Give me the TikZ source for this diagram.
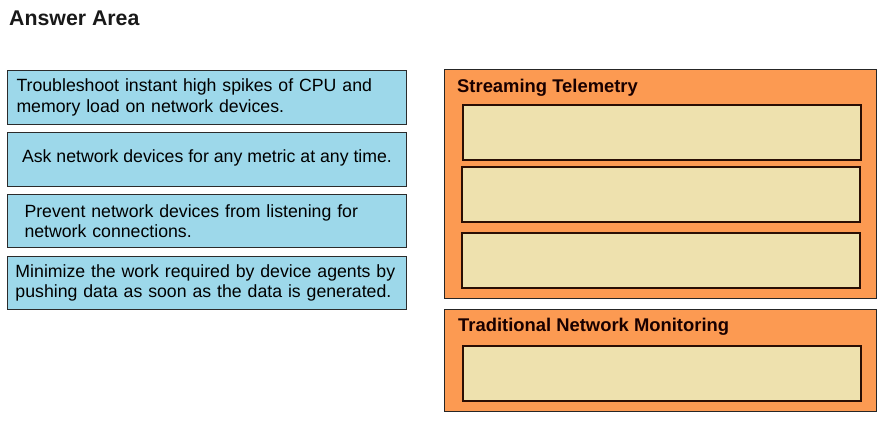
\documentclass[tikz,border=0pt]{standalone}
\usepackage{fontspec}
\setmainfont{Liberation Sans}
\definecolor{cardblue}{HTML}{9DD8EA}
\definecolor{zoneorange}{HTML}{FC9A52}
\definecolor{slotbeige}{HTML}{EEE1AE}
\definecolor{slotedge}{HTML}{2A0E04}
\definecolor{cardedge}{HTML}{2B2B2B}
\begin{document}
\begin{tikzpicture}[x=1pt,y=-1pt,
  card/.style={draw=cardedge,line width=1pt,fill=cardblue,anchor=north west,
    minimum height=54pt,align=left,font=\fontsize{17.7}{20.5}\selectfont,inner ysep=0pt},
  zone/.style={draw=black!85,line width=1pt,fill=zoneorange,anchor=north west,inner sep=0pt},
  slot/.style={draw=slotedge,line width=1.8pt,fill=slotbeige,anchor=north west,
    minimum width=398pt,minimum height=55pt,inner sep=0pt},
  zonetitle/.style={anchor=west,font=\fontsize{18.4}{20}\bfseries\selectfont,text=black!90!red,inner sep=0pt}
  ]
\useasboundingbox[fill=white] (0,0) rectangle (891,423);
\node[anchor=west,font=\fontsize{21.3}{24}\bfseries\selectfont,inner sep=0pt,text=black!90] (title) at (9,18) {Answer Area};

\node[card,inner xsep=9pt,text width=381pt] (c1) at (7,70) {Troubleshoot instant high spikes of CPU and\\memory load on network devices.};
\node[card,inner xsep=0pt,minimum width=399pt,text depth=7pt] (c2) at (7,132) {Ask network devices for any metric at any time.};
\node[card,inner xsep=17pt,text width=365pt,minimum height=53pt] (c3) at (7,194) {Prevent network devices from listening for\\network connections.};
\node[card,inner xsep=8pt,text width=383pt,minimum height=53pt] (c4) at (7,256) {Minimize the work required by device agents by\\pushing data as soon as the data is generated.};

\node[zone,minimum width=432pt,minimum height=229pt] (st) at (444,69) {};
\node[zonetitle] (sttitle) at (457,87.5) {Streaming Telemetry};
\node[slot,minimum width=398pt] (s1) at (462,104) {};
\node[slot] (s2) at (461,166) {};
\node[slot] (s3) at (461,232) {};

\node[zone,minimum width=432pt,minimum height=102pt] (tn) at (444,309) {};
\node[zonetitle] (tntitle) at (458,326.5) {Traditional Network Monitoring};
\node[slot] (t1) at (462,345) {};
\end{tikzpicture}
\end{document}
